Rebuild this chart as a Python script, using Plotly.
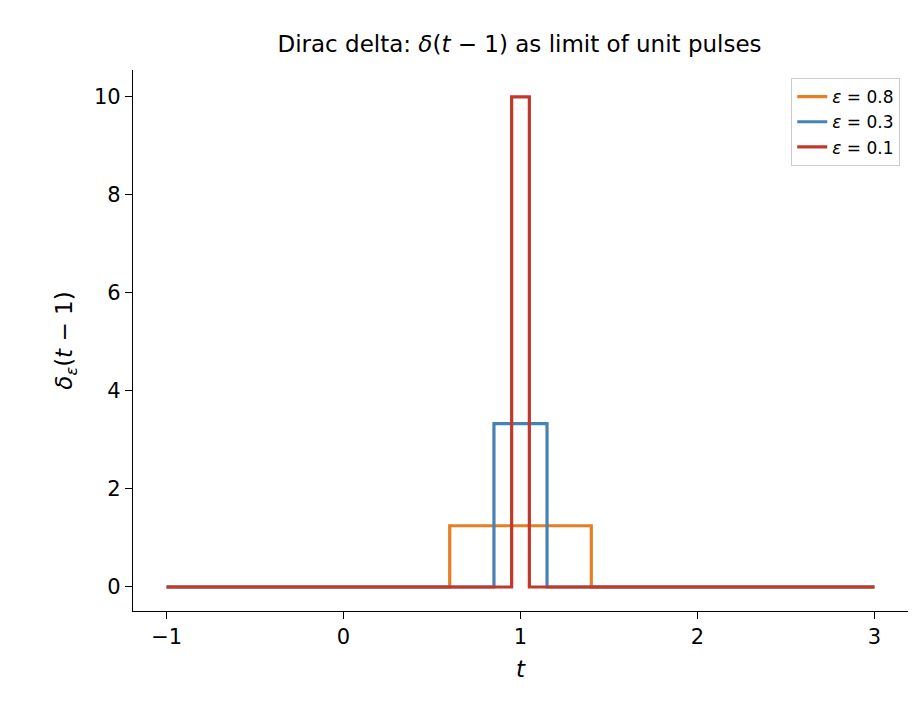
import plotly.graph_objects as go

# step points for each unit pulse (value holds until the next t)
t_08 = [-1, 0.6, 1.4, 3]
y_08 = [0, 1.25, 0, 0]
t_03 = [-1, 0.85, 1.15, 3]
y_03 = [0, 3.333, 0, 0]
t_01 = [-1, 0.95, 1.05, 3]
y_01 = [0, 10.0, 0, 0]

labels = ["<i>ε</i> = 0.8", "<i>ε</i> = 0.3", "<i>ε</i> = 0.1"]
colors = ["#e67e22", "#4682b4", "#c0392b"]

fig = go.Figure()
for t, y, name, c in zip([t_08, t_03, t_01], [y_08, y_03, y_01], labels, colors):
    fig.add_trace(go.Scatter(x=t, y=y, mode="lines", name=name,
                             line=dict(color=c, width=3.2, shape="hv")))

axis_common = dict(showline=True, linecolor="black", linewidth=1.2, ticks="outside",
                   ticklen=7, tickcolor="black", showgrid=False, zeroline=False,
                   automargin=False, tickfont=dict(size=21, color="black"))

fig.update_layout(
    width=920, height=716, plot_bgcolor="white", paper_bgcolor="white",
    font=dict(family="DejaVu Sans", color="black"),
    margin=dict(l=125, r=20, t=62, b=113, autoexpand=False),
    title=dict(text="Dirac delta: <i>δ</i>(<i>t</i> − 1) as limit of unit pulses",
               x=0.556, xanchor="center", y=0.95, yanchor="middle", font=dict(size=23)),
    xaxis=dict(range=[-1.19, 3.19], tickvals=[-1, 0, 1, 2, 3],
               ticktext=["−1", "0", "1", "2", "3"],
               title=dict(text="<i>t</i>", font=dict(size=23), standoff=12), **axis_common),
    yaxis=dict(range=[-0.49, 10.55], tickvals=[0, 2, 4, 6, 8, 10],
               title=dict(text="<i>δ<sub>ε</sub></i>(<i>t</i> − 1)", font=dict(size=23), standoff=14),
               **axis_common),
    legend=dict(x=0.99, y=0.985, xanchor="right", yanchor="top",
                bordercolor="#cccccc", borderwidth=1, bgcolor="white",
                font=dict(size=17)),
)

fig.write_html("out.html")
